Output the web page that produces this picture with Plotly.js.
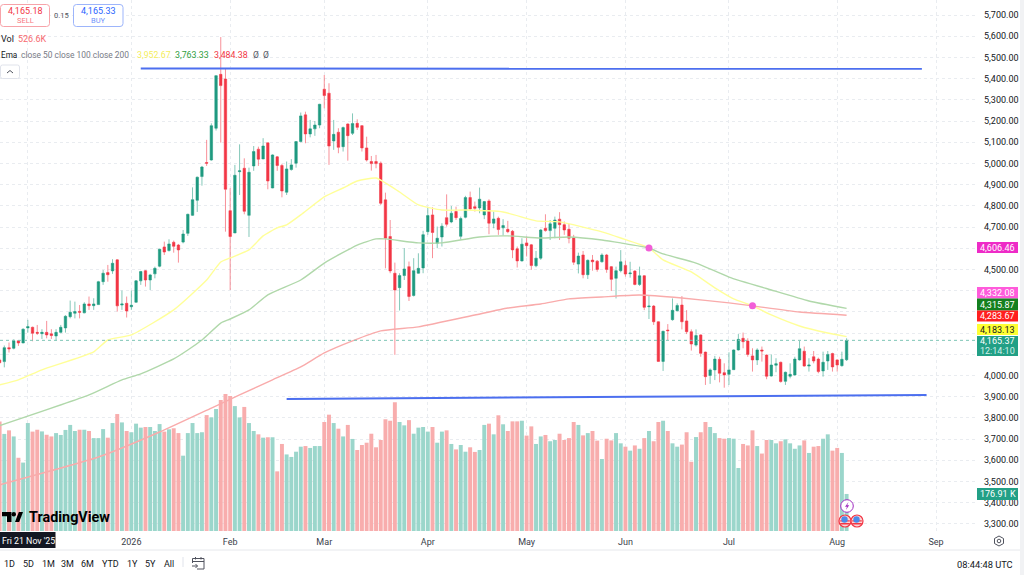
<!DOCTYPE html>
<html>
<head>
<meta charset="utf-8">
<script src="https://cdn.plot.ly/plotly-3.0.1.min.js"></script>
<style>
  html, body { margin: 0; padding: 0; background: #fff; overflow: hidden; }
  #graphDiv { width: 1024px; height: 575px; }
</style>
</head>
<body>
<div id="graphDiv"></div>
<script>
// daily candles, values (bar 0 is Fri 21 Nov '25)
const opens = [
  4073,4065,4131,4128,4163,4153,4224,4227,4203,4197,
  4203,4196,4186,4203,4224,4277,4293,4302,4295,4337,
  4329,4334,4442,4485,4493,4545,4332,4340,4324,4345,
  4446,4494,4450,4479,4515,4606,4589,4628,4615,4629,
  4670,4755,4826,4938,5004,5016,5166,5420,5398,4777,
  4672,4961,4977,4755,4988,5067,5021,5097,4884,5031,
  4990,4864,4971,5001,5103,5229,5139,5163,5181,5350,
  5331,5106,5147,5079,5186,5142,5189,5178,5073,5009,
  5009,5001,4828,4655,4482,4414,4471,4513,4377,4482,
  4507,4678,4757,4623,4653,4744,4724,4773,4656,4746,
  4839,4796,4790,4757,4823,4718,4741,4696,4689,4680,
  4597,4540,4625,4616,4517,4553,4694,4683,4694,4737,
  4711,4689,4650,4525,4568,4475,4544,4539,4536,4568,
  4513,4458,4494,4519,4480,4492,4429,4470,4324,4327,
  4253,4066,4214,4263,4305,4332,4257,4206,4143,4191,
  4110,4000,4026,4076,4013,4005,4027,4120,4175,4162,
  4092,4073,4120,4096,3997,4048,4062,3972,3996,4002,
  4073,4114,4044,4088,4077,4021,4068,4103,4073,4046,
  4074];
const highs = [
  4081,4141,4155,4170,4167,4222,4262,4230,4238,4218,
  4257,4218,4218,4238,4284,4353,4348,4332,4345,4372,
  4364,4446,4497,4521,4548,4548,4400,4372,4400,4450,
  4493,4497,4479,4513,4598,4631,4642,4636,4620,4686,
  4763,4887,4938,4988,5111,5189,5416,5596,5449,4883,
  4993,5090,5024,4980,5082,5079,5119,5098,5043,5035,
  4998,5009,5020,5105,5240,5244,5205,5200,5281,5417,
  5378,5205,5166,5174,5189,5236,5208,5181,5126,5035,
  5040,5009,4862,4733,4532,4482,4600,4537,4553,4576,
  4682,4792,4793,4702,4718,4854,4799,4796,4749,4847,
  4867,4820,4886,4823,4831,4773,4749,4737,4729,4686,
  4608,4647,4655,4620,4587,4691,4760,4733,4749,4770,
  4726,4715,4663,4579,4587,4547,4568,4544,4576,4573,
  4516,4513,4591,4541,4536,4497,4513,4473,4379,4332,
  4255,4211,4242,4363,4340,4374,4308,4217,4217,4194,
  4112,4033,4092,4088,4057,4109,4123,4195,4202,4175,
  4128,4128,4136,4099,4099,4081,4065,4018,4057,4088,
  4162,4136,4081,4115,4084,4112,4115,4107,4076,4112,
  4175];
const lows = [
  4054,4038,4108,4123,4139,4152,4202,4161,4191,4172,
  4175,4172,4164,4199,4202,4269,4269,4269,4293,4309,
  4309,4332,4427,4442,4479,4301,4309,4273,4309,4343,
  4427,4419,4403,4458,4510,4568,4584,4579,4532,4623,
  4658,4752,4771,4895,4988,5013,5155,5098,4678,4403,
  4671,4851,4760,4653,4965,4988,5020,4878,4883,4965,
  4840,4851,4966,4980,5100,5095,5123,5130,5166,5260,
  4993,5064,5048,5056,5013,5134,5158,5056,5009,4966,
  4977,4804,4505,4482,4097,4306,4450,4351,4372,4480,
  4482,4663,4553,4600,4608,4702,4718,4733,4639,4741,
  4781,4773,4765,4737,4666,4694,4663,4660,4671,4553,
  4509,4537,4561,4498,4510,4545,4678,4639,4647,4639,
  4663,4623,4521,4481,4458,4455,4494,4489,4532,4484,
  4398,4363,4486,4466,4461,4425,4422,4308,4266,4238,
  4065,4021,4167,4258,4301,4217,4195,4117,4136,4088,
  3955,3960,3978,3967,3942,3955,4026,4117,4128,4088,
  4018,4049,4065,3982,3994,4015,3966,3955,3986,3999,
  4070,4041,4018,4057,4010,3994,4026,4018,4018,4041,
  4068];
const closes = [
  4060,4131,4125,4163,4153,4218,4230,4199,4199,4203,
  4191,4188,4203,4227,4279,4298,4301,4298,4337,4329,
  4337,4442,4482,4475,4529,4328,4337,4304,4331,4446,
  4490,4450,4474,4505,4595,4582,4620,4609,4592,4667,
  4760,4829,4935,4983,5001,5178,5414,5367,4878,4655,
  4944,4965,4774,4958,5056,5020,5082,4917,5040,4990,
  4870,4974,4993,5103,5224,5139,5163,5181,5279,5320,
  5082,5137,5076,5169,5131,5188,5170,5073,5016,4999,
  4999,4812,4647,4493,4403,4471,4502,4372,4494,4505,
  4664,4754,4674,4647,4704,4713,4765,4744,4740,4839,
  4785,4788,4831,4820,4718,4738,4688,4707,4678,4592,
  4540,4619,4612,4518,4553,4686,4683,4715,4733,4711,
  4686,4647,4534,4563,4475,4543,4536,4500,4568,4500,
  4453,4494,4536,4478,4483,4429,4470,4321,4327,4253,
  4066,4208,4211,4307,4330,4253,4206,4148,4188,4104,
  3994,4026,4077,4010,4002,4026,4120,4170,4159,4099,
  4073,4120,4115,3996,4049,4055,3971,4015,4005,4077,
  4126,4044,4049,4068,4018,4062,4099,4040,4049,4076,
  4165];
// volume in thousands
const volumes = [
  523,464,481,452,350,327,516,475,484,476,
  460,452,468,459,483,507,478,484,484,478,
  444,444,487,446,516,559,519,478,472,513,
  494,497,497,478,511,475,486,491,468,360,
  468,516,468,472,554,543,583,626,655,645,
  597,543,593,516,478,462,446,448,448,285,
  416,366,354,379,403,406,397,406,406,521,
  556,516,489,452,507,440,387,411,422,465,
  400,435,534,527,615,521,505,530,465,494,
  497,475,497,422,475,481,416,390,411,379,
  400,378,387,507,513,462,553,510,478,524,
  524,527,456,500,416,452,459,429,435,465,
  435,444,521,507,457,468,478,432,344,441,
  433,468,419,403,384,409,393,444,478,429,
  521,527,478,419,403,413,472,331,449,472,
  521,497,468,444,441,444,441,301,416,409,
  481,406,370,435,435,419,429,438,419,393,
  409,433,373,403,406,441,462,384,397,373,
  177];

// moving averages, read at the bars where the curve bends
const ema50Bars = [0,4,9,20,23,28,37,44,47,49,53,56,59,61,64,69,73,76,80,85,89,94,99,107,114,119,128,132,138,141,147,152,156,160,164,170,176,180];
const ema50 = [3955,3979,4026,4111,4167,4191,4309,4450,4535,4554,4592,4658,4696,4710,4757,4842,4884,4917,4931,4865,4804,4780,4780,4771,4729,4724,4677,4648,4601,4545,4488,4413,4361,4328,4285,4233,4200,4183];
const ema100Bars = [0,19,26,30,37,40,43,47,49,53,57,64,69,76,80,82,89,94,102,108,115,121,128,132,138,141,148,155,164,172,180];
const ema100 = [3763,3908,3979,4007,4078,4120,4167,4247,4266,4309,4380,4450,4530,4615,4644,4644,4625,4625,4653,4658,4648,4653,4639,4625,4601,4573,4530,4464,4403,4351,4316];
const ema200Bars = [0,21,34,45,51,58,64,69,75,81,89,101,108,115,121,128,136,145,155,160,170,180];
const ema200 = [3484,3615,3733,3846,3908,3979,4040,4106,4163,4210,4229,4285,4318,4337,4361,4370,4379,4365,4342,4328,4299,4284];

// hand drawn levels and the two crossing alerts
const topLevelBars = [30,196];
const topLevel = [5448,5446];
const bottomLevelBars = [61,197];
const bottomLevel = [3889,3908];
const crossBars = [138,160];
const crossPrices = [4601,4328];
const lastPrice = 4165.37;

const tickBars = [6,28,49,69,91,112,133,155,178,199];
const tickLabels = ['','2026','Feb','Mar','Apr','May','Jun','Jul','Aug','Sep'];
const priceTicks = [3300,3400,3500,3600,3700,3800,3900,4000,4100,4200,4300,4400,4500,4600,4700,4800,4900,5000,5100,5200,5300,5400,5500,5600,5700];
// the levels under a scale tag have no label of their own
const priceTickLabels = ['3,300.00','3,400.00','3,500.00','3,600.00','3,700.00','3,800.00','3,900.00','4,000.00','','','','','4,500.00','','4,700.00','4,800.00','4,900.00','5,000.00','5,100.00','5,200.00','5,300.00','5,400.00','5,500.00','5,600.00','5,700.00'];
const rangeButtons = ['1D','5D','1M','3M','6M','YTD','1Y','5Y','All'];
const rangeButtonX = [9,28,48,67,87,110,132,150,169];

const barIndex = closes.map((c, i) => i);
const UP = '#1F9A80', DOWN = '#F23645';
const FONT = 'Roboto, "Noto Sans", sans-serif';

// layout helpers, screen pixels to paper fractions
const PW = 976, PH = 533;
const px = x => x / PW;
const py = y => 1 - y / PH;

const annotations = [];
function label(x, y, text, size, color, anchor, extra) {
  annotations.push(Object.assign({
    xref: 'paper', yref: 'paper', x: px(x), y: py(y), text: text,
    showarrow: false, xanchor: anchor || 'left', yanchor: 'middle', borderpad: 0,
    font: {family: FONT, size: size, color: color}
  }, extra || {}));
}
function priceBox(yTop, yBottom, bg) {
  shapes.push({type: 'rect', xref: 'paper', yref: 'paper', x0: px(977), x1: px(1018), y0: py(yBottom), y1: py(yTop),
    fillcolor: bg, line: {width: 0}, layer: 'above'});
}
function roundRect(x0, y0, x1, y1, r) {
  const X = v => px(v), Y = v => py(v);
  return 'M' + X(x0 + r) + ',' + Y(y0) + ' L' + X(x1 - r) + ',' + Y(y0) + ' Q' + X(x1) + ',' + Y(y0) + ' ' + X(x1) + ',' + Y(y0 + r) +
    ' L' + X(x1) + ',' + Y(y1 - r) + ' Q' + X(x1) + ',' + Y(y1) + ' ' + X(x1 - r) + ',' + Y(y1) +
    ' L' + X(x0 + r) + ',' + Y(y1) + ' Q' + X(x0) + ',' + Y(y1) + ' ' + X(x0) + ',' + Y(y1 - r) +
    ' L' + X(x0) + ',' + Y(y0 + r) + ' Q' + X(x0) + ',' + Y(y0) + ' ' + X(x0 + r) + ',' + Y(y0) + ' Z';
}
function poly(points, closed) {
  return points.map((p, i) => (i ? 'L' : 'M') + px(p[0]) + ',' + py(p[1])).join(' ') + (closed ? ' Z' : '');
}
function pathShape(path, fill, lineColor, lineWidth) {
  shapes.push({type: 'path', xref: 'paper', yref: 'paper', path: path, layer: 'above',
    fillcolor: fill || 'rgba(0,0,0,0)', line: {color: lineColor || 'rgba(0,0,0,0)', width: lineWidth || 0}});
}
function circle(cx, cy, r, fill, lineColor, lineWidth) {
  shapes.push({type: 'circle', xref: 'paper', yref: 'paper', layer: 'above',
    x0: px(cx - r), x1: px(cx + r), y0: py(cy + r), y1: py(cy - r),
    fillcolor: fill, line: {color: lineColor || fill, width: lineWidth || 0}});
}

const shapes = [
  // last price line
  {type: 'line', xref: 'paper', yref: 'y2', x0: 0, x1: 1, y0: lastPrice, y1: lastPrice,
   line: {color: '#7CC4B5', width: 1, dash: 'dot'}},
  // separator above the bottom toolbar and the strip on the far right
  {type: 'line', xref: 'paper', yref: 'paper', x0: 0, x1: px(1024), y0: py(550), y1: py(550), line: {color: '#E6E8EC', width: 1}},
  {type: 'rect', xref: 'paper', yref: 'paper', x0: px(1020), x1: px(1024), y0: py(575), y1: py(0), fillcolor: '#F1F2F4', line: {width: 0}}
];

// sell / buy boxes
pathShape(roundRect(0.5, 4.5, 49.5, 26.5, 3), '#fff', '#F7A3A9', 1);
pathShape(roundRect(73.5, 4.5, 123, 26.5, 3), '#fff', '#9DB5FB', 1);
label(25, 11, '4,165.18', 9, '#F23645', 'center');
label(25, 20.5, 'SELL', 7.5, '#F7777F', 'center');
label(98, 11, '4,165.33', 9, '#2962FF', 'center');
label(98, 20.5, 'BUY', 7.5, '#6F93FB', 'center');
label(61.5, 15.5, '0.15', 7.5, '#50535E', 'center');

// legend lines
label(0, 38.5, 'Vol', 9, '#131722');
label(17, 38.5, '526.6K', 9, '#F7696F');
label(0, 54.5, 'Ema', 8.2, '#131722');
label(19.5, 54.5, 'close 50 close 100 close 200', 8.4, '#787B86');
label(136, 54.5, '3,952.67', 8.8, '#F5EE5C');
label(174, 54.5, '3,763.33', 8.8, '#2E9E3E');
label(213, 54.5, '3,484.38', 8.8, '#F23645');
label(252, 54.5, 'Ø', 8.5, '#50535E');
label(262, 54.5, 'Ø', 8.5, '#50535E');
pathShape(roundRect(0.5, 65, 19.5, 78.5, 2), '#fff', '#E0E3EB', 1);
pathShape(poly([[7, 73], [10, 70.5], [13, 73]]), null, '#50535E', 1);

// TradingView mark
pathShape(poly([[2, 512], [11.5, 512], [11.5, 522], [7, 522], [7, 516.3], [2, 516.3]], true), '#000');
circle(13.8, 514.2, 2.2, '#000');
pathShape(poly([[15, 522], [18.8, 512], [23, 512], [19.2, 522]], true), '#000');
label(28, 517, '<b>TradingView</b>', 14.4, '#000');

// crosshair date under the left edge
shapes.push({type: 'rect', xref: 'paper', yref: 'paper', x0: 0, x1: px(55.5), y0: py(548), y1: py(532),
  fillcolor: '#131722', line: {width: 0}, layer: 'above'});
label(1, 540.5, "Fri 21 Nov '25", 8.8, '#fff');

// bottom toolbar
rangeButtons.forEach((b, i) => label(rangeButtonX[i], 564, b, 9, '#131722', 'center'));
shapes.push({type: 'line', xref: 'paper', yref: 'paper', x0: px(183), x1: px(183), y0: py(567), y1: py(557), line: {color: '#E0E3EB', width: 1}});
pathShape(poly([[197, 569], [204, 569], [204, 558.5], [192.5, 558.5], [192.5, 563]]), null, '#50535E', 1);
pathShape(poly([[192.5, 561.5], [204, 561.5]]), null, '#50535E', 1);
pathShape(poly([[195.5, 557], [195.5, 559.5]]), null, '#50535E', 1);
pathShape(poly([[201, 557], [201, 559.5]]), null, '#50535E', 1);
pathShape(poly([[192, 566], [197.5, 566]]), null, '#50535E', 1);
pathShape(poly([[195.5, 564], [197.5, 566], [195.5, 568]]), null, '#50535E', 1);
label(1014, 564, '08:44:48 UTC', 9.3, '#131722', 'right');

// settings gear under the price scale
pathShape(poly([[999, 536], [1003.5, 538.5], [1003.5, 543.5], [999, 546], [994.5, 543.5], [994.5, 538.5]], true), null, '#50535E', 1);
circle(999, 541, 1.8, '#fff', '#50535E', 1);

// event badges on the last bar
circle(847, 506, 6.3, '#fff', '#A02CC0', 1);
pathShape(poly([[848.5, 502], [845, 506.8], [847, 506.8], [845.8, 510], [849.2, 505.2], [847.2, 505.2]], true), '#A02CC0');
[845, 857].forEach(cx => {
  circle(cx, 521, 6, '#FBD5D7', '#F23645', 1.2);
  shapes.push({type: 'rect', xref: 'paper', yref: 'paper', layer: 'above', x0: px(cx - 4.8), x1: px(cx + 4.8), y0: py(524.5), y1: py(523), fillcolor: '#F23645', line: {width: 0}});
  shapes.push({type: 'rect', xref: 'paper', yref: 'paper', layer: 'above', x0: px(cx - 4.8), x1: px(cx + 4.8), y0: py(521.5), y1: py(520.3), fillcolor: '#F23645', line: {width: 0}});
  circle(cx - 0.5, 519.5, 3.2, '#4C8BE8');
});

// tags on the price scale
priceBox(242, 253, '#EE2BC7');
priceBox(287, 298.5, '#FF5BDB');
priceBox(298.5, 310.5, '#14801E');
priceBox(310.5, 321.5, '#FF1F1F');
priceBox(324, 335, '#FFFF33');
priceBox(336, 356, '#22A086');
priceBox(488, 500, '#22A086');
label(997.5, 247.5, '4,606.46', 9, '#fff', 'center');
label(997.5, 292.5, '4,332.08', 9, '#fff', 'center');
label(997.5, 304.5, '4,315.87', 9, '#fff', 'center');
label(997.5, 316, '4,283.67', 9, '#fff', 'center');
label(997.5, 329.5, '4,183.13', 9, '#131722', 'center');
label(997.5, 341, '4,165.37', 9, '#fff', 'center');
label(997.5, 351, '12:14:10', 9, '#D5EFE9', 'center');
label(997.5, 494, '176.91 K', 9, '#fff', 'center');

const traces = [
  {
    x: barIndex,
    y: volumes,
    type: 'bar',
    width: 0.84,
    marker: {color: closes.map((c, i) => c >= opens[i] ? '#9BD6CB' : '#F8ADAD'), line: {width: 0}},
    hoverinfo: 'skip',
    showlegend: false
  },
  {
    x: barIndex, open: opens, high: highs, low: lows, close: closes,
    type: 'candlestick',
    xaxis: 'x', yaxis: 'y2',
    increasing: {line: {color: 'rgba(31,154,128,0.55)', width: 1}, fillcolor: UP},
    decreasing: {line: {color: 'rgba(242,54,69,0.55)', width: 1}, fillcolor: DOWN},
    whiskerwidth: 0,
    hoverinfo: 'skip',
    showlegend: false
  },
  {x: ema50Bars, y: ema50, yaxis: 'y2', mode: 'lines', line: {color: '#FFFF99', width: 1.4, shape: 'spline', smoothing: 0.5}, hoverinfo: 'skip', showlegend: false},
  {x: ema100Bars, y: ema100, yaxis: 'y2', mode: 'lines', line: {color: '#B0D8AA', width: 1.4, shape: 'spline', smoothing: 0.5}, hoverinfo: 'skip', showlegend: false},
  {x: ema200Bars, y: ema200, yaxis: 'y2', mode: 'lines', line: {color: '#F9ABAB', width: 1.4, shape: 'spline', smoothing: 0.5}, hoverinfo: 'skip', showlegend: false},
  {x: topLevelBars, y: topLevel, yaxis: 'y2', mode: 'lines', line: {color: '#4C6FEF', width: 2}, hoverinfo: 'skip', showlegend: false},
  {x: bottomLevelBars, y: bottomLevel, yaxis: 'y2', mode: 'lines', line: {color: '#4C6FEF', width: 2}, hoverinfo: 'skip', showlegend: false},
  {x: crossBars, y: crossPrices, yaxis: 'y2', mode: 'markers', marker: {color: '#F25FD8', size: 7}, hoverinfo: 'skip', showlegend: false}
];

const layout = {
  width: 1024,
  height: 575,
  margin: {l: 0, r: 48, t: 0, b: 42},
  paper_bgcolor: '#fff',
  plot_bgcolor: '#fff',
  showlegend: false,
  boxgap: 0.25,
  font: {family: FONT, color: '#131722'},
  xaxis: {
    range: [0.085, 207.5],
    tickmode: 'array',
    tickvals: tickBars,
    ticktext: tickLabels,
    tickfont: {family: FONT, size: 9, color: '#3A3E4A'},
    ticks: '',
    showline: false,
    zeroline: false,
    showgrid: true,
    gridcolor: '#E9ECF0',
    griddash: 'dot',
    rangeslider: {visible: false},
    ticklabelstandoff: 2
  },
  // volume sits in the bottom part, its scale is hidden
  yaxis: {
    range: [-9.6, 2538],
    visible: false,
    showgrid: false,
    zeroline: false,
    fixedrange: true
  },
  yaxis2: {
    overlaying: 'y',
    side: 'right',
    anchor: 'x',
    range: [3256.6, 5770.8],
    tickmode: 'array',
    tickvals: priceTicks,
    ticktext: priceTickLabels,
    ticks: '',
    tickfont: {family: FONT, size: 9, color: '#131722'},
    showline: false,
    zeroline: false,
    showgrid: true,
    gridcolor: '#E9ECF0',
    griddash: 'dot',
    ticklabelstandoff: 7
  },
  shapes: shapes,
  annotations: annotations
};

Plotly.newPlot('graphDiv', traces, layout, {staticPlot: true, displayModeBar: false});
</script>
</body>
</html>
